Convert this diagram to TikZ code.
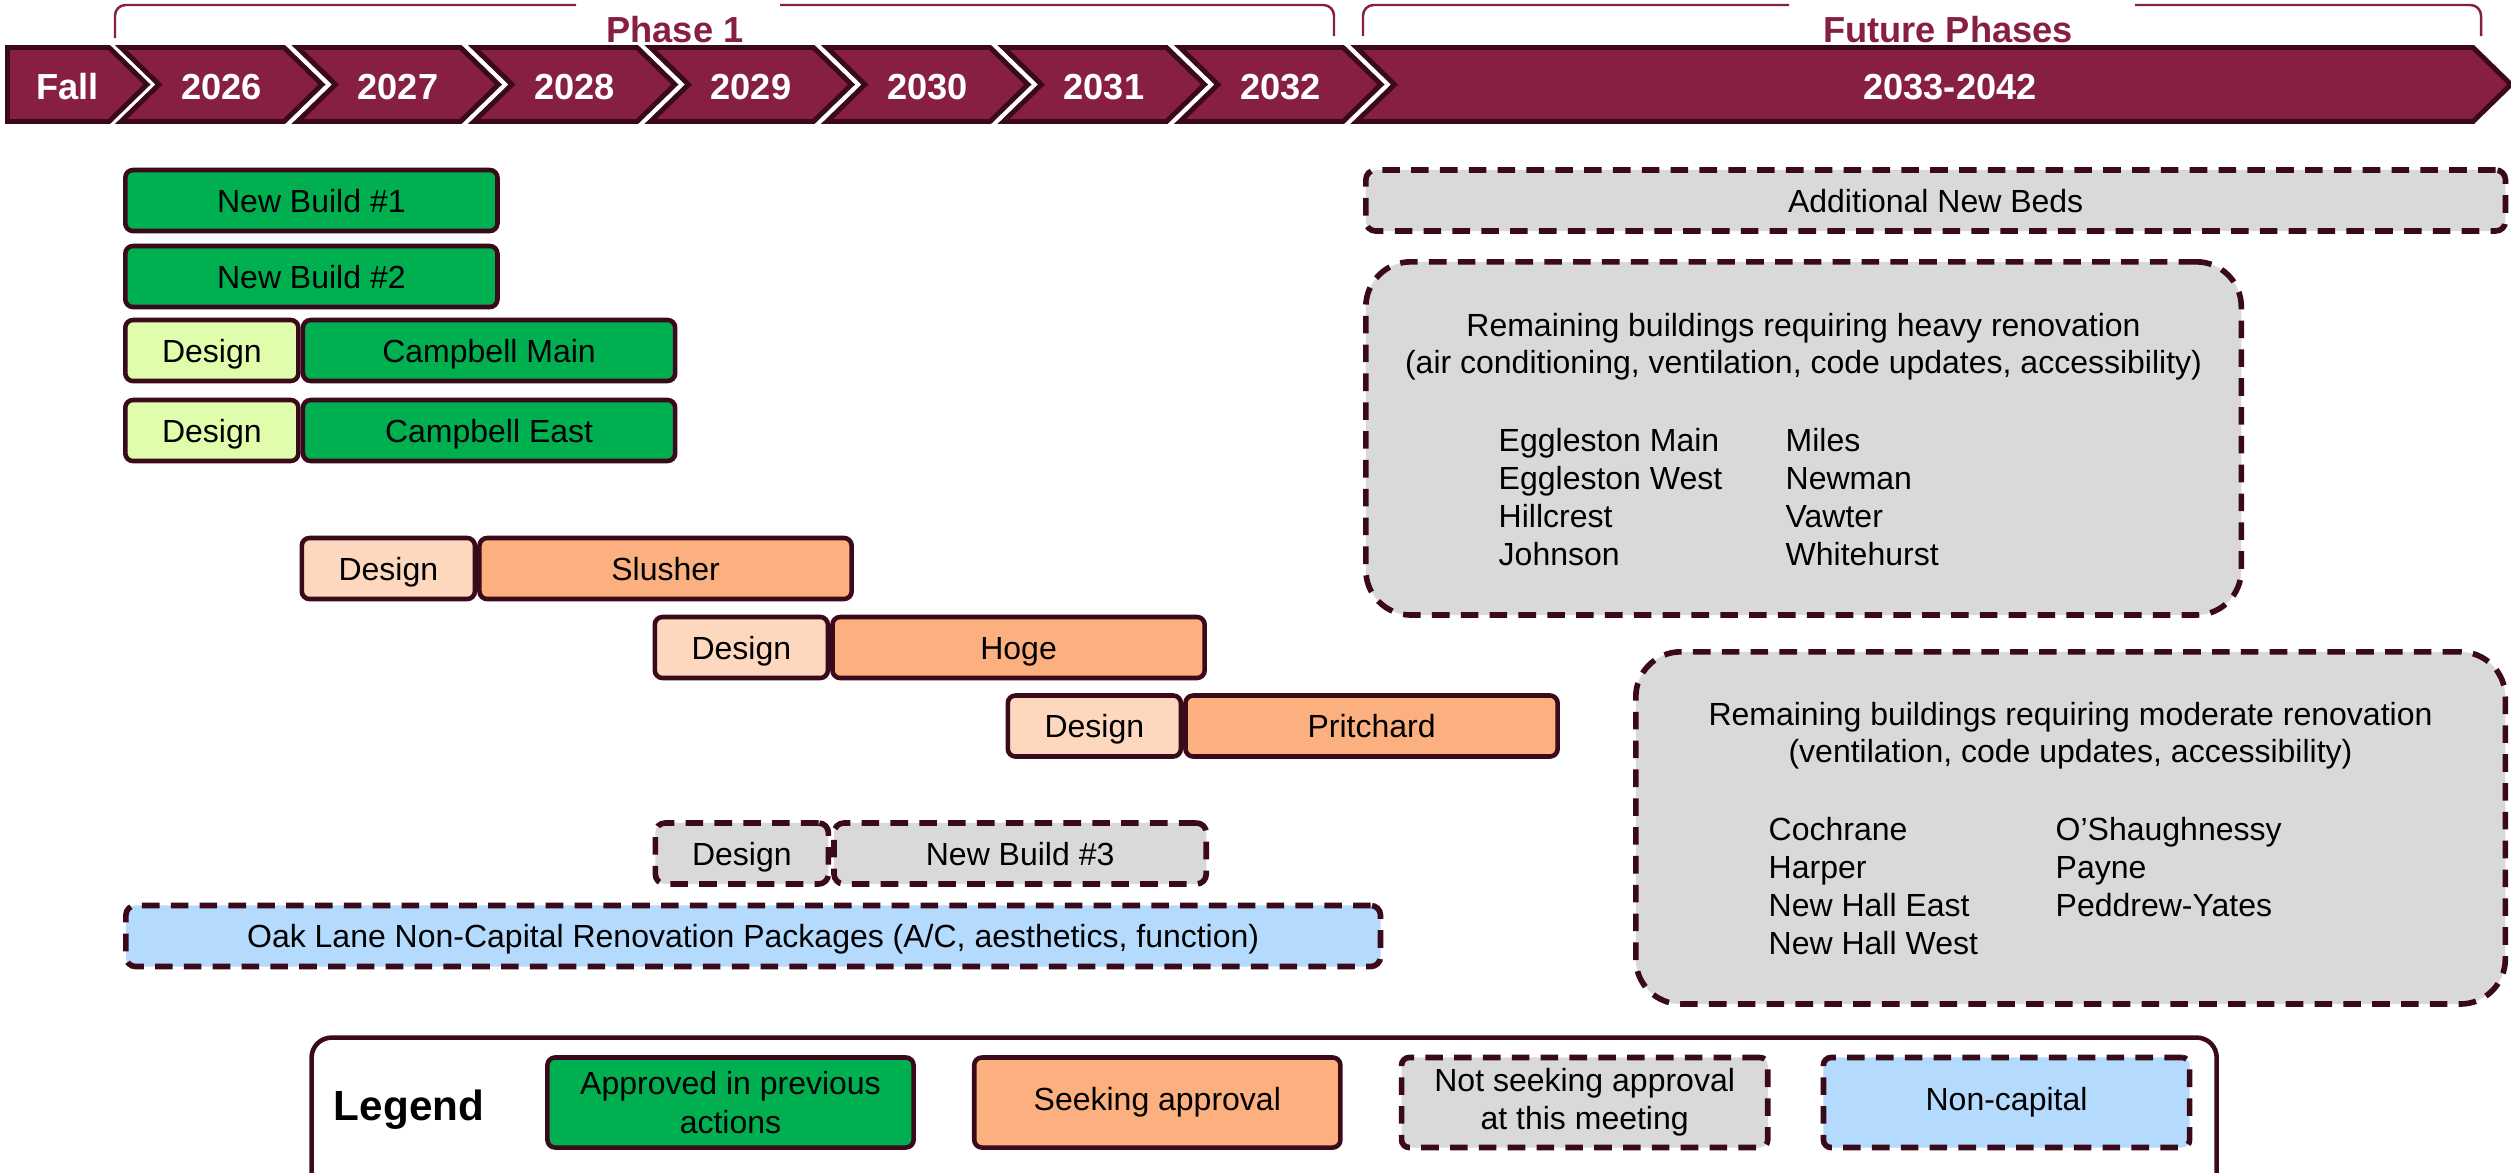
\documentclass[tikz,border=0pt]{standalone}
\usepackage{fontspec}
\setmainfont{Liberation Sans}
\usetikzlibrary{positioning}
\definecolor{vtmaroon}{RGB}{134,31,65}
\definecolor{edgedark}{RGB}{58,10,26}
\definecolor{apgreen}{RGB}{0,176,80}
\definecolor{aplight}{RGB}{224,253,172}
\definecolor{skorange}{RGB}{252,176,128}
\definecolor{sklight}{RGB}{254,216,190}
\definecolor{nsgrey}{RGB}{217,217,217}
\definecolor{ncblue}{RGB}{180,218,254}

\tikzset{
  body/.style={font={\fontsize{9.1}{10.9}\selectfont}},
  chevron/.style={fill=vtmaroon, draw=edgedark, line width=1.4pt},
  yearlabel/.style={text=white, anchor=base, inner sep=0pt, font={\bfseries\fontsize{10.3}{12}\selectfont}},
  bracket/.style={draw=vtmaroon, line width=0.7pt, rounded corners=3pt},
  phaselabel/.style={text=vtmaroon, anchor=base, inner sep=0pt, font={\bfseries\fontsize{10.3}{12}\selectfont}},
  solidedge/.style={draw=edgedark, line width=1.3pt},
  dashedge/.style={draw=edgedark, line width=1.6pt, dash pattern=on 5pt off 3.2pt},
  bar/.style={body, rounded corners=2.2pt, minimum height=0.61cm, inner sep=0pt, text height=0.3cm, text depth=0.07cm},
  design/.style={minimum width=1.73cm},
  build/.style={minimum width=3.72cm},
  approved/.style={bar, solidedge, build, fill=apgreen},
  appdesign/.style={bar, solidedge, design, fill=aplight},
  seeking/.style={bar, solidedge, build, fill=skorange},
  seekdesign/.style={bar, solidedge, design, fill=sklight},
  notseeking/.style={bar, dashedge, fill=nsgrey, rounded corners=2.8pt},
  noncapital/.style={bar, dashedge, fill=ncblue, rounded corners=2.8pt},
  futurebox/.style={dashedge, fill=nsgrey, rounded corners=0.45cm, inner sep=0pt},
  listtext/.style={body, inner sep=0pt, anchor=base west},
  titletext/.style={body, inner sep=0pt, anchor=base},
  keybox/.style={body, rounded corners=2.2pt, minimum width=3.66cm, minimum height=0.9cm, inner sep=0pt, align=center}
}

\begin{document}
\begin{tikzpicture}[x=0.01cm, y=-0.01cm]
  \useasboundingbox (0,0) rectangle (2511,1172);
  \clip (0,0) rectangle (2511,1172);

  % phase brackets
  \draw[bracket] (115,38) |- (576,5);
  \draw[bracket] (780,5) -| (1334,36);
  \node[phaselabel] (phaseOne) at (675,42) {Phase 1};
  \draw[bracket] (1363,36) |- (1789,5);
  \draw[bracket] (2135,5) -| (2481,36);
  \node[phaselabel] (phaseFuture) at (1948,42) {Future Phases};

  % timeline chevrons
  \draw[chevron] (7.5,47.5) -- (109,47.5) -- (147,84.5) -- (109,121.5) -- (7.5,121.5) -- cycle;
  \node[yearlabel] (yrFall) at (67.5,99) {Fall};
  \foreach \yr [count=\k from 0] in {2026,...,2032} {
    \pgfmathsetmacro{\xa}{121+176.5*\k}
    \pgfmathsetmacro{\xb}{\xa+163}
    \draw[chevron] (\xa,47.5) -- (\xb,47.5) -- (\xb+38,84.5) -- (\xb,121.5) -- (\xa,121.5) -- (\xa+38,84.5) -- cycle;
    \node[yearlabel] (yr\yr) at ({\xa+100.5},99) {\yr};
  }
  \draw[chevron] (1356.5,47.5) -- (2473,47.5) -- (2511,84.5) -- (2473,121.5) -- (1356.5,121.5) -- (1394.5,84.5) -- cycle;
  \node[yearlabel] (yrFuture) at (1950,99) {2033-2042};

  % phase 1 projects
  \node[approved, anchor=west] (newBuildOne) at (123,200.5) {New Build \#1};
  \node[approved, anchor=west] (newBuildTwo) at (123,276.5) {New Build \#2};
  \node[appdesign, anchor=west] (dsCampMain) at (123,350.5) {Design};
  \node[approved, right=0pt of dsCampMain] (campMain) {Campbell Main};
  \node[appdesign, anchor=west] (dsCampEast) at (123,430.5) {Design};
  \node[approved, right=0pt of dsCampEast] (campEast) {Campbell East};

  \node[seekdesign, anchor=west] (dsSlusher) at (299.5,568.5) {Design};
  \node[seeking, right=0pt of dsSlusher] (slusher) {Slusher};
  \node[seekdesign, anchor=west] (dsHoge) at (652.5,647.5) {Design};
  \node[seeking, right=0pt of dsHoge] (hoge) {Hoge};
  \node[seekdesign, anchor=west] (dsPritchard) at (1005.5,726) {Design};
  \node[seeking, right=0pt of dsPritchard] (pritchard) {Pritchard};

  \node[notseeking, design, anchor=west] (dsBuildThree) at (652.5,853.5) {Design};
  \node[notseeking, build, right=0pt of dsBuildThree] (newBuildThree) {New Build \#3};
  \node[noncapital, minimum width=12.54cm, anchor=west] (oakLane) at (123,936) {Oak Lane Non-Capital Renovation Packages (A/C, aesthetics, function)};

  % future phases
  \node[notseeking, minimum width=11.39cm, anchor=west] (newBeds) at (1363,200.5) {Additional New Beds};

  \node[futurebox, minimum width=8.75cm, minimum height=3.53cm, anchor=north west] (heavy) at (1363,259) {};
  \node[titletext] (heavyTitleA) at (1803.5,336) {Remaining buildings requiring heavy renovation};
  \node[titletext] (heavyTitleB) at (1803.5,373.5) {(air conditioning, ventilation, code updates, accessibility)};
  \foreach \nm [count=\i from 0] in {Eggleston Main,Eggleston West,Hillcrest,Johnson}
    \node[listtext] (heavyA\i) at (1498,451+38.3*\i) {\nm};
  \foreach \nm [count=\i from 0] in {Miles,Newman,Vawter,Whitehurst}
    \node[listtext] (heavyB\i) at (1785,451+38.3*\i) {\nm};

  \node[futurebox, minimum width=8.69cm, minimum height=3.52cm, anchor=north west] (moderate) at (1633,649) {};
  \node[titletext] (modTitleA) at (2070.5,725) {Remaining buildings requiring moderate renovation};
  \node[titletext] (modTitleB) at (2070.5,762.5) {(ventilation, code updates, accessibility)};
  \foreach \nm [count=\i from 0] in {Cochrane,Harper,New Hall East,New Hall West}
    \node[listtext] (modA\i) at (1768,840+38.3*\i) {\nm};
  \foreach \nm [count=\i from 0] in {O’Shaughnessy,Payne,Peddrew-Yates}
    \node[listtext] (modB\i) at (2055,840+38.3*\i) {\nm};

  % legend
  \node[solidedge, rounded corners=0.2cm, minimum width=19.04cm, minimum height=1.8cm, anchor=north west, inner sep=0pt] (legend) at (309.3,1035.3) {};
  \node[anchor=base, inner sep=0pt, font={\bfseries\fontsize{12}{14}\selectfont}] (legendTitle) at (409,1120) {Legend};
  \node[keybox, solidedge, fill=apgreen] (keyApproved) at (730.5,1102.5) {Approved in previous\\actions};
  \node[keybox, solidedge, fill=skorange, right=0.56cm of keyApproved] (keySeeking) {Seeking approval};
  \node[keybox, dashedge, fill=nsgrey, right=0.56cm of keySeeking] (keyNotSeeking) {Not seeking approval\\at this meeting};
  \node[keybox, dashedge, fill=ncblue, right=0.5cm of keyNotSeeking] (keyNonCapital) {Non-capital};
\end{tikzpicture}
\end{document}
